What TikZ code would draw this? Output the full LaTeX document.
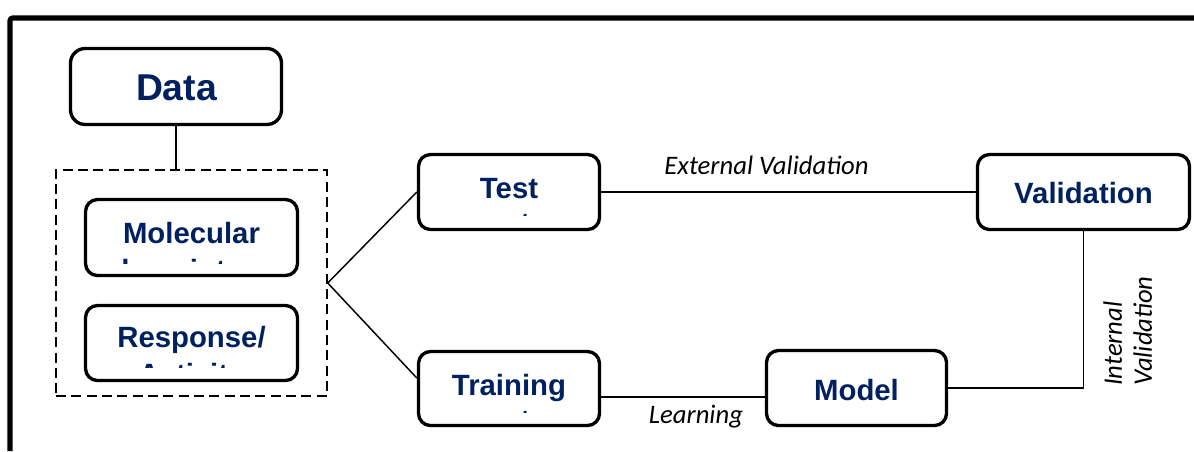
\documentclass[tikz,border=0pt]{standalone}
\usepackage{fontspec}
\setmainfont{Liberation Sans}
\newfontfamily\lblfont{Carlito}
\usetikzlibrary{fit}
\definecolor{navy}{RGB}{0,32,96}
\begin{document}
\begin{tikzpicture}[x=0.75pt,y=-0.75pt,
  box/.style={draw, line width=2.5pt, rounded corners=9pt, inner sep=0pt},
  grp/.style={draw, line width=1.1pt, dash pattern=on 7.5pt off 4pt, inner sep=0pt},
  boxtext/.style={text=navy, font=\fontsize{22}{26}\selectfont\bfseries, inner sep=0pt, anchor=base},
  bigtext/.style={boxtext, font=\fontsize{28}{32}\selectfont\bfseries},
  lbl/.style={font=\lblfont\itshape\fontsize{20}{22.5}\selectfont, inner sep=0pt},
  conn/.style={line width=1.1pt},
  frame/.style={line width=3.8pt, rounded corners=2pt}]
\useasboundingbox (0,0) rectangle (1194,451);
% outer frame
\draw[frame] (10,451) -- (10,18) -- (1194,18);
% boxes
\node[box, fit={(70.5,48.5) (281.5,124.5)}, rounded corners=11pt] (data) {};
\node[grp, fit={(56,170) (327,396)}] (group) {};
\node[box, fit={(85.5,199.5) (297.5,275.5)}] (mol) {};
\node[box, fit={(85.5,305.5) (297.5,380.5)}] (resp) {};
\node[box, fit={(418.5,154.5) (599.5,229.5)}] (test) {};
\node[box, fit={(418.5,351.5) (599.5,425.5)}] (train) {};
\node[box, fit={(977.5,154.5) (1189.5,229.5)}] (valid) {};
\node[box, fit={(766.5,350.5) (946.5,425.5)}] (model) {};
% box texts
\node[bigtext] (datat) at (176.5,100) {Data};
\node[boxtext] (molt) at (191.5,243) {Molecular};
\node[boxtext] (respt) at (191.5,347) {Response/};
\node[boxtext] (testt) at (509,198) {Test};
\node[boxtext] (traint) at (509,395) {Training};
\node[boxtext] (validt) at (1083.5,203) {Validation};
\node[boxtext] (modelt) at (856.5,400) {Model};
% clipped second lines
\begin{scope}
  \clip (90,200) rectangle (293,263);
  \node[boxtext] (molt2) at (191.5,280) {descriptors};
\end{scope}
\begin{scope}
  \clip (90,306) rectangle (293,367);
  \node[boxtext] (respt2) at (191.5,384) {Activity};
\end{scope}
\begin{scope}
  \clip (422,156) rectangle (596,215);
  \node[boxtext] (testt2) at (509,233.5) {set};
\end{scope}
\begin{scope}
  \clip (422,353) rectangle (596,412);
  \node[boxtext] (traint2) at (509,430.5) {set};
\end{scope}
% connectors
\draw[conn] (data.south) -- (data.south |- group.north);
\draw[conn] (group.east) -- (test.west);
\draw[conn] (group.east) -- (train.west |- 0,378);
\draw[conn] (test.east) -- (valid.west);
\draw[conn] (train.east |- 0,397) -- (model.west |- 0,397);
\draw[conn] (model.east) -| (valid.south);
% labels
\node[lbl, anchor=base] (ext) at (766.5,174) {External Validation};
\node[lbl, anchor=base] (learn) at (696,423) {Learning};
\node[lbl, rotate=90, anchor=north west, align=left] (intv) at (1103,386) {Internal\\Validation};
\end{tikzpicture}
\end{document}
